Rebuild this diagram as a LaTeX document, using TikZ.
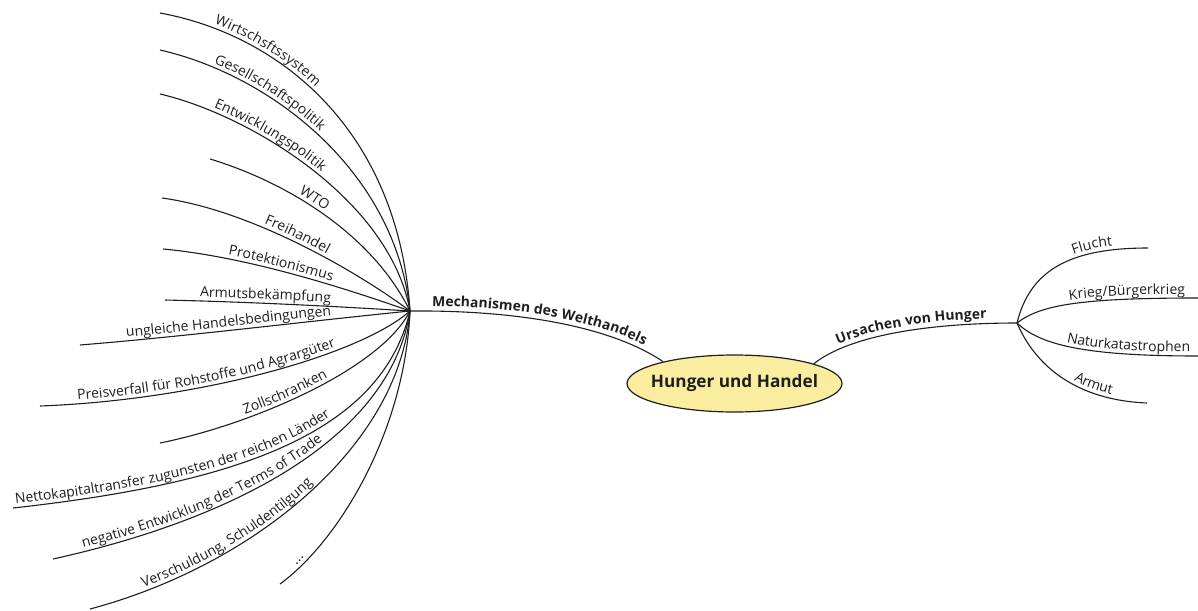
\documentclass[tikz,border=0pt]{standalone}
\usepackage{fontspec}
\setmainfont{Open Sans}
\usetikzlibrary{decorations.text,shapes.geometric}
\definecolor{rootfill}{RGB}{250,237,160}
\definecolor{ink}{RGB}{30,30,30}
\newcommand\branchfont{\fontsize{14}{16}\selectfont\color{ink}}
\newcommand\topicfont{\fontsize{13.9}{16}\selectfont\bfseries\color{ink}}
\tikzset{
  branch/.style={draw=ink, line width=1.1pt},
  root/.style={ellipse, draw=ink, line width=1.2pt, fill=rootfill,
    minimum width=215pt, minimum height=57pt, inner sep=0pt,
    font=\fontsize{17.2}{20}\selectfont\bfseries, text=ink},
  % label set along a curve, counted from the start of the curve
  say/.style 2 args={postaction={decorate, decoration={text along path,
    raise=4pt, text={|\branchfont|#2}, text align={left indent=#1}}}},
  % label set along a curve, counted back from its end
  sayend/.style 2 args={postaction={decorate, decoration={text along path,
    raise=4pt, text={|\branchfont|#2}, text align={right, right indent=#1}}}},
  topic/.style 2 args={postaction={decorate, decoration={text along path,
    raise=5pt, text={|\topicfont|#2}, text align={left indent=#1}}}},
}
\begin{document}
\begin{tikzpicture}[x=1pt, y=-1pt]
\useasboundingbox (0,0) rectangle (1198,610);

% central topic (the zero-width box keeps the ellipse at its set size)
\node[root] (root) at (734.5,383.5) {\makebox[0pt]{Hunger und Handel}};
\coordinate (hubL) at (410,311);
\coordinate (hubR) at (1017,323);

% free ends of the left fan
\coordinate (w1)  at (160,13);
\coordinate (w2)  at (160,50);
\coordinate (w3)  at (160,94);
\coordinate (w4)  at (210,159);
\coordinate (w5)  at (162,198);
\coordinate (w6)  at (163,249);
\coordinate (w7)  at (165,300);
\coordinate (w8)  at (80,345);
\coordinate (w9)  at (40,406);
\coordinate (w10) at (160,443);
\coordinate (w11) at (13,508);
\coordinate (w12) at (53,559);
\coordinate (w13) at (90,609);
\coordinate (w14) at (280,584);

% free ends of the right fan
\coordinate (u1) at (1148,248);
\coordinate (u2) at (1198,298);
\coordinate (u3) at (1198,356);
\coordinate (u4) at (1147,403);

% main branches
\draw[branch, topic={22pt}{Mechanismen des Welthandels}]
  (hubL) .. controls (520,310) and (612,327) .. (root.163);
\draw[branch, topic={30pt}{Ursachen von Hunger}]
  (root.14) .. controls (850,335) and (930,323) .. (hubR);

% left fan
\draw[branch, say={55pt}{Wirtschsftssystem}]
  (w1) .. controls (280,35) and (398,130) .. (hubL);
\draw[branch, say={55pt}{Gesellschaftspolitik}]
  (w2) .. controls (270,75) and (395,170) .. (hubL);
\draw[branch, say={55pt}{Entwicklungspolitik}]
  (w3) .. controls (250,115) and (390,200) .. (hubL);
\draw[branch, say={95pt}{WTO}]
  (w4) .. controls (280,180) and (370,230) .. (hubL);
\draw[branch, say={105pt}{Freihandel}]
  (w5) .. controls (250,210) and (355,270) .. (hubL);
\draw[branch, say={65pt}{Protektionismus}]
  (w6) .. controls (250,257) and (350,290) .. (hubL);
\draw[branch, say={35pt}{Armutsbekämpfung}]
  (w7) .. controls (250,302) and (330,306) .. (hubL);
\draw[branch, say={47pt}{ungleiche Handelsbedingungen}]
  (w8) .. controls (190,336) and (300,322) .. (hubL);
\draw[branch, say={38pt}{Preisverfall für Rohstoffe und Agrargüter}]
  (w9) .. controls (200,400) and (360,355) .. (hubL);
\draw[branch, say={90pt}{Zollschranken}]
  (w10) .. controls (250,425) and (380,370) .. (hubL);
\draw[branch, say={3pt}{Nettokapitaltransfer zugunsten der reichen Länder}]
  (w11) .. controls (220,485) and (380,440) .. (hubL);
\draw[branch, say={32pt}{negative Entwicklung der Terms of Trade}]
  (w12) .. controls (230,520) and (390,440) .. (hubL);
\draw[branch, say={58pt}{Verschuldung, Schuldentilgung}]
  (w13) .. controls (255,565) and (400,445) .. (hubL);
\draw[branch, say={25pt}{...}]
  (w14) .. controls (340,540) and (405,430) .. (hubL);

% right fan
\draw[branch, sayend={35pt}{Flucht}]
  (hubR) .. controls (1030,270) and (1070,248) .. (u1);
\draw[branch, sayend={13pt}{Krieg/Bürgerkrieg}]
  (hubR) .. controls (1040,305) and (1080,298) .. (u2);
\draw[branch, sayend={8pt}{Naturkatastrophen}]
  (hubR) .. controls (1040,345) and (1085,356) .. (u3);
\draw[branch, sayend={37pt}{Armut}]
  (hubR) .. controls (1035,365) and (1075,400) .. (u4);
\end{tikzpicture}
\end{document}
